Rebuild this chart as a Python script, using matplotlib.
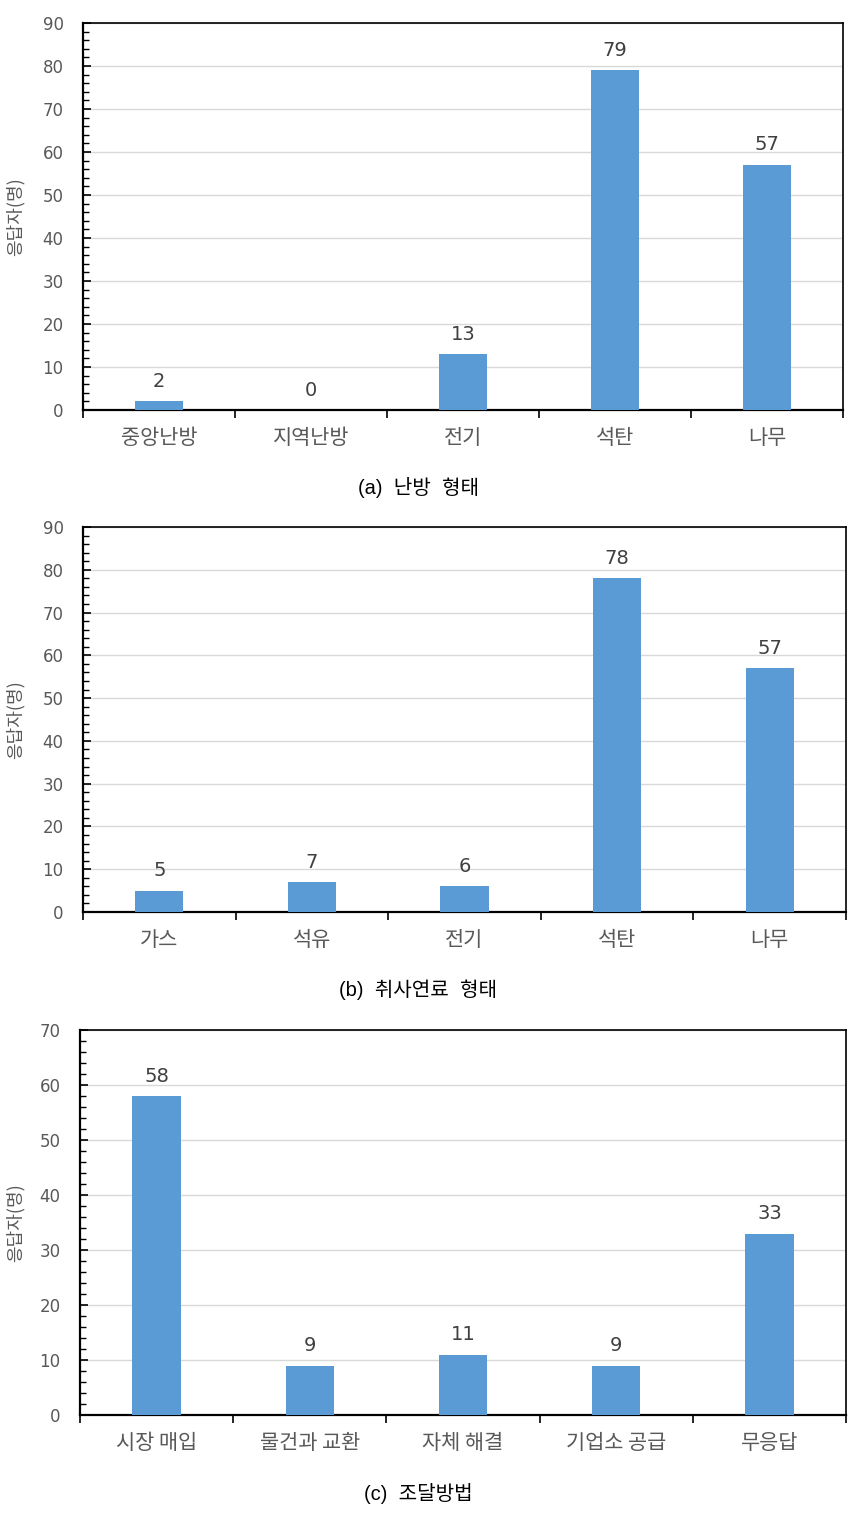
import matplotlib
matplotlib.use("Agg")
import matplotlib.pyplot as plt
from matplotlib.ticker import MultipleLocator, FixedLocator
import numpy as np

plt.rcParams['font.family'] = ['Noto Sans CJK KR', 'DejaVu Sans']

cats_a = ["중앙난방", "지역난방", "전기", "석탄", "나무"]
vals_a = [2, 0, 13, 79, 57]
cats_b = ["가스", "석유", "전기", "석탄", "나무"]
vals_b = [5, 7, 6, 78, 57]
cats_c = ["시장 매입", "물건과 교환", "자체 해결", "기업소 공급", "무응답"]
vals_c = [58, 9, 11, 9, 33]
captions = ["(a)  난방  형태", "(b)  취사연료  형태", "(c)  조달방법"]
ymaxes = [90, 90, 70]
ylabel = "응답자(명)"

W, H = 861, 1516
fig = plt.figure(figsize=(W / 100, H / 100), dpi=100)

# axes pixel boxes: left, right, top, bottom
boxes = [(83, 843, 23, 410), (83, 846, 527, 912), (80, 846, 1030, 1415)]
cap_y = [488, 990, 1493]
bar_color = "#5b9bd5"
tick_gray = "#595959"
num_family = ['DejaVu Sans', 'Noto Sans CJK KR']

panels = [(cats_a, vals_a), (cats_b, vals_b), (cats_c, vals_c)]
for i, ((cats, vals), (l, r, t, b), ymax) in enumerate(zip(panels, boxes, ymaxes)):
    ax = fig.add_axes([l / W, 1 - b / H, (r - l) / W, (b - t) / H])
    x = np.arange(len(cats))
    ax.bar(x, vals, width=0.315, color=bar_color, zorder=3)
    ax.set_xlim(-0.5, len(cats) - 0.5)
    ax.set_ylim(0, ymax)
    ax.yaxis.set_major_locator(MultipleLocator(10))
    ax.yaxis.set_minor_locator(MultipleLocator(2))
    ax.grid(axis='y', which='major', color='#d9d9d9', linewidth=1, zorder=0)
    ax.set_axisbelow(True)
    ax.xaxis.set_major_locator(FixedLocator(np.arange(len(cats) + 1) - 0.5))
    ax.xaxis.set_minor_locator(FixedLocator(x))
    ax.set_xticklabels([])
    ax.set_xticklabels(cats, minor=True)
    ax.tick_params(axis='x', which='major', direction='out', length=6, width=1.2, color='black')
    ax.tick_params(axis='x', which='minor', length=0, pad=12, labelsize=15, labelcolor=tick_gray)
    ax.tick_params(axis='y', which='major', direction='in', length=6, width=1.2, color='black',
                   labelsize=12, labelcolor=tick_gray, pad=14)
    ax.tick_params(axis='y', which='minor', direction='in', length=4, width=1, color='black')
    for lab in ax.get_yticklabels():
        lab.set_family(num_family)
    for side in ['left', 'bottom']:
        ax.spines[side].set_linewidth(1.6)
        ax.spines[side].set_color('black')
    for side in ['top', 'right']:
        ax.spines[side].set_linewidth(1.2)
        ax.spines[side].set_color('black')
    for xi, v in zip(x, vals):
        ax.annotate(str(v), (xi, v), xytext=(0, 7.5), textcoords='offset points',
                    ha='center', va='bottom', fontsize=14, color='#404040',
                    family=num_family)
    fig.text(15 / W, 1 - ((t + b) / 2) / H, ylabel, rotation=90, ha='center', va='center',
             fontsize=13, color=tick_gray)
    fig.text(418 / W, 1 - cap_y[i] / H, captions[i], ha='center', va='center',
             fontsize=14.5, color='black', family=['Liberation Sans', 'Noto Sans CJK KR'])

fig.savefig("out.png", dpi=100)
